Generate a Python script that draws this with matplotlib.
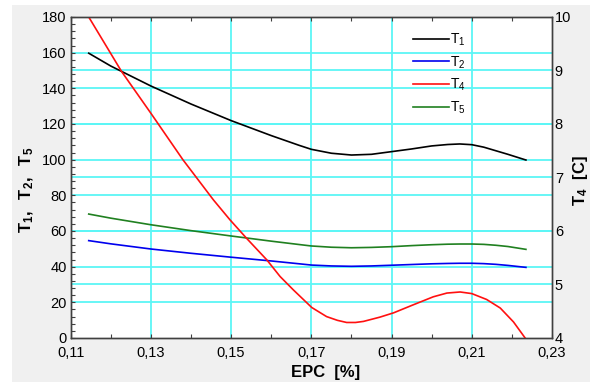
import matplotlib
matplotlib.use("Agg")
import matplotlib.pyplot as plt
from matplotlib.ticker import MultipleLocator, FuncFormatter, FixedLocator
from matplotlib.patches import Rectangle

plt.rcParams['font.family'] = ['Liberation Sans', 'DejaVu Sans']
plt.rcParams['mathtext.fontset'] = 'custom'
plt.rcParams['mathtext.rm'] = 'Liberation Sans'
plt.rcParams['mathtext.it'] = 'Liberation Sans'
plt.rcParams['mathtext.bf'] = 'Liberation Sans:bold'

# EPC [%] sample points for T1, T2, T5
epc = [0.1145, 0.12, 0.13, 0.14, 0.15, 0.16, 0.167, 0.17, 0.175, 0.18,
       0.185, 0.19, 0.195, 0.20, 0.204, 0.207, 0.21, 0.213, 0.216, 0.219, 0.2235]
t1 = [159.7, 152.5, 141.3, 131.2, 121.9, 113.5, 108.0, 105.8, 103.6, 102.6,
      103.0, 104.5, 106.0, 107.7, 108.5, 108.8, 108.4, 107.0, 105.0, 103.0, 99.8]
t2 = [54.6, 52.8, 49.9, 47.5, 45.3, 43.2, 41.6, 40.9, 40.4, 40.2,
      40.4, 40.8, 41.2, 41.6, 41.8, 41.9, 41.9, 41.7, 41.3, 40.7, 39.6]
t5 = [69.5, 67.2, 63.5, 60.2, 57.2, 54.3, 52.4, 51.6, 50.9, 50.6,
      50.8, 51.2, 51.8, 52.3, 52.6, 52.7, 52.7, 52.5, 52.0, 51.3, 49.7]

# T4 [C] has its own sampling (right axis)
epc4 = [0.1145, 0.1227, 0.13, 0.138, 0.1456, 0.1497, 0.1539, 0.1589, 0.1622,
        0.1655, 0.1701, 0.1738, 0.1765, 0.1788, 0.1810, 0.1830, 0.1871, 0.1905,
        0.1954, 0.2004, 0.2038, 0.2071, 0.2100, 0.2137, 0.2171, 0.2204, 0.2233]
t4 = [10.0, 8.98, 8.2, 7.33, 6.58, 6.21, 5.86, 5.46, 5.15,
      4.90, 4.57, 4.40, 4.33, 4.29, 4.29, 4.31, 4.39, 4.47,
      4.62, 4.77, 4.84, 4.86, 4.83, 4.72, 4.56, 4.30, 4.0]

left_ticks = [0, 20, 40, 60, 80, 100, 120, 140, 160, 180]
right_ticks = [4, 5, 6, 7, 8, 9, 10]
x_ticks = [0.11, 0.13, 0.15, 0.17, 0.19, 0.21, 0.23]

grid_c = '#5cf6f6'

fig = plt.figure(figsize=(5.9, 3.82), dpi=100)
fig.patch.set_facecolor('white')
fig.patches.append(Rectangle((12 / 590, 0), 1, 1 - 5 / 382, transform=fig.transFigure,
                             facecolor='#f0f0f0', edgecolor='none', zorder=-10))

ax = fig.add_axes([0.1198, 0.1152, 0.8158, 0.8403])
ax.set_facecolor('white')
ax.set_xlim(0.11, 0.23)
ax.set_ylim(0, 180)

# grid: left ticks plus the right-axis ticks mapped onto the left scale
for v in left_ticks[1:-1]:
    ax.axhline(v, color=grid_c, lw=1.3, zorder=0)
for t in right_ticks[1:-1]:
    ax.axhline((t - 4) / 6 * 180, color=grid_c, lw=1.3, zorder=0)
for v in x_ticks[1:-1]:
    ax.axvline(v, color=grid_c, lw=1.3, zorder=0)

l1, = ax.plot(epc, t1, color='black', lw=1.2, label=r'T$_1$')
l2, = ax.plot(epc, t2, color='#0000ee', lw=1.2, label=r'T$_2$')
l5, = ax.plot(epc, t5, color='#208020', lw=1.2, label=r'T$_5$')

ax2 = ax.twinx()
ax2.set_ylim(4, 10)
l4, = ax2.plot(epc4, t4, color='#ff1010', lw=1.2, label=r'T$_4$')

ax.xaxis.set_major_locator(FixedLocator(x_ticks))
ax.xaxis.set_minor_locator(MultipleLocator(0.01))
ax.xaxis.set_major_formatter(FuncFormatter(lambda v, p: f"{v:.2f}".replace('.', ',')))
ax.yaxis.set_major_locator(FixedLocator(left_ticks))
ax.yaxis.set_minor_locator(MultipleLocator(4))
ax.tick_params(which='both', direction='in', top=True, length=3, width=0.8,
               color='#404040', labelsize=10.5)
ax.tick_params(axis='x', pad=6)
ax.tick_params(axis='y', pad=3)
ax2.yaxis.set_major_locator(FixedLocator(right_ticks))
ax2.tick_params(length=0, labelsize=10.5, pad=2)

for a in (ax, ax2):
    for s in a.spines.values():
        s.set_color('#404040')
        s.set_linewidth(1.0)

ax.set_xlabel('EPC  [%]', fontsize=12, fontweight='bold', labelpad=1)
ax.xaxis.set_label_coords(0.53, -0.085)
ax.set_ylabel(r'$\mathbf{T_1,\ \ T_2,\ \ T_5}$', fontsize=12)
ax.yaxis.set_label_coords(-0.073, 0.46)
ax2.set_ylabel(r'$\mathbf{T_4\ \ [C]}$', fontsize=12)
ax2.yaxis.set_label_coords(1.039, 0.49)

leg = ax2.legend(handles=[l1, l2, l4, l5], loc='upper left',
                 bbox_to_anchor=(0.69, 0.985), frameon=False, fontsize=10,
                 handlelength=2.6, handletextpad=0.1, labelspacing=0.45,
                 borderpad=0.2)

fig.savefig('out.png', dpi=100, facecolor=fig.get_facecolor())
